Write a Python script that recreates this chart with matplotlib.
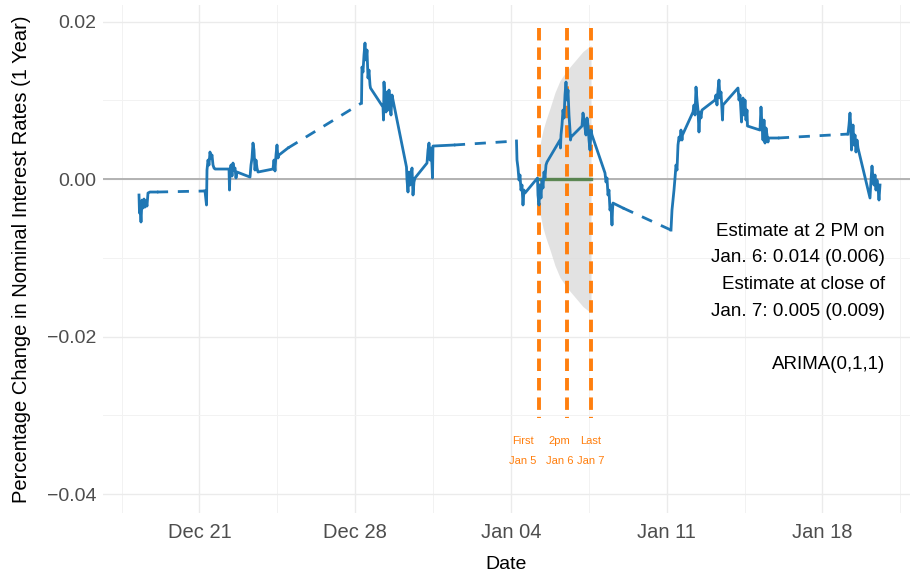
import numpy as np
import matplotlib
matplotlib.use("Agg")
import matplotlib.pyplot as plt

plt.rcParams['font.family'] = ['Liberation Sans', 'DejaVu Sans']

# time: days since 2020-12-21 00:00 ; value: percentage change in 1-year rate
days = [
    # Dec 18
    -2.719, -2.697, -2.674, -2.629, -2.584, -2.539, -2.494, -2.449, -2.404, -2.360, -2.315, -2.225, -1.910,
    # Dec 21
    0.247, 0.315, 0.337, 0.382, 0.427, 0.472, 0.517, 0.562, 0.607, 0.652, 0.697,
    # Dec 22
    1.326, 1.348, 1.371, 1.416, 1.461, 1.506, 1.551, 1.596, 1.640, 1.685,
    # Dec 23
    2.270, 2.315, 2.360, 2.404, 2.449, 2.494, 2.539, 2.584, 2.629,
    # Dec 24
    3.303, 3.348, 3.393, 3.438, 3.483, 3.528, 3.573, 3.978,
    # Dec 28
    7.281, 7.303, 7.348, 7.393, 7.438, 7.483, 7.528, 7.573, 7.618, 7.663, 7.685,
    # Dec 29
    8.247, 8.270, 8.292, 8.337, 8.382, 8.427, 8.472, 8.517, 8.562, 8.607, 8.652, 8.697,
    # Dec 30
    9.303, 9.326, 9.371, 9.416, 9.461, 9.506, 9.551, 9.596, 9.640, 9.685,
    # Dec 31
    10.225, 10.270, 10.315, 10.360, 10.404, 10.449, 10.472, 10.494, 11.438,
    # Jan 4
    14.247, 14.270, 14.315, 14.360, 14.404, 14.449, 14.494, 14.539, 14.584, 14.629,
    # Jan 5
    15.191, 15.213, 15.258, 15.303, 15.348, 15.393, 15.438, 15.483, 15.528, 15.573, 15.618,
    # Jan 6
    16.202, 16.225, 16.247, 16.292, 16.337, 16.382, 16.427, 16.472, 16.517, 16.562, 16.607, 16.652, 16.674, 16.697,
    # Jan 7
    17.191, 17.236, 17.281, 17.326, 17.371, 17.416, 17.461, 17.506, 17.551, 17.596, 17.640,
    # Jan 8
    18.225, 18.270, 18.315, 18.360, 18.404, 18.449, 18.494, 18.539, 18.562, 18.584, 19.034,
    # Jan 11
    21.191, 21.236, 21.281, 21.326, 21.371, 21.416, 21.461, 21.506, 21.551, 21.596, 21.640, 21.685, 21.708,
    # Jan 12
    22.180, 22.225, 22.270, 22.315, 22.360, 22.404, 22.449, 22.494, 22.539, 22.584,
    # Jan 13
    23.169, 23.213, 23.258, 23.303, 23.348, 23.393, 23.438, 23.483, 23.506, 23.528,
    # Jan 14
    24.202, 24.247, 24.292, 24.337, 24.360, 24.382, 24.427, 24.472, 24.517, 24.562, 24.607, 24.629,
    # Jan 15
    25.191, 25.236, 25.281, 25.326, 25.371, 25.416, 25.461, 25.506, 25.551, 25.573, 26.000,
    # Jan 19
    29.146, 29.191, 29.236, 29.281, 29.303, 29.326, 29.371, 29.416, 29.461, 29.506, 29.551, 29.596,
    # Jan 20
    30.135, 30.180, 30.225, 30.270, 30.315, 30.360, 30.404, 30.449, 30.494, 30.539, 30.584,
]
rate = [
    # Dec 18
    -0.00203, -0.00432, -0.00330, -0.00546, -0.00267, -0.00368, -0.00254, -0.00356, -0.00279, -0.00343, -0.00178, -0.00165, -0.00165,
    # Dec 21
    -0.00152, -0.00330, 0.00114, 0.00241, 0.00178, 0.00343, 0.00267, 0.00305, 0.00178, 0.00140, 0.00127,
    # Dec 22
    0.00127, -0.00140, 0.00089, 0.00178, 0.00038, 0.00203, 0.00114, 0.00140, 0.00013, 0.00089,
    # Dec 23
    0.00025, 0.00178, 0.00267, 0.00457, 0.00368, 0.00114, 0.00241, 0.00140, 0.00089,
    # Dec 24
    0.00127, 0.00241, 0.00102, 0.00305, 0.00432, 0.00267, 0.00305, 0.00394,
    # Dec 28
    0.00965, 0.01422, 0.01359, 0.01575, 0.01727, 0.01511, 0.01638, 0.01283, 0.01384, 0.01194, 0.01156,
    # Dec 29
    0.00914, 0.00749, 0.01232, 0.01003, 0.00851, 0.01105, 0.00876, 0.01130, 0.00940, 0.00813, 0.01067, 0.01003,
    # Dec 30
    0.00152, -0.00013, -0.00165, 0.00089, -0.00076, 0.00038, 0.00140, -0.00203, -0.00038, 0.00013,
    # Dec 31
    0.00203, 0.00368, 0.00457, 0.00241, 0.00394, 0.00178, 0.00013, 0.00419, 0.00432,
    # Jan 4
    0.00483, 0.00241, 0.00140, -0.00013, 0.00051, -0.00140, -0.00076, -0.00330, -0.00140, -0.00178,
    # Jan 5
    0.00013, -0.00203, -0.00330, -0.00076, -0.00241, -0.00013, -0.00114, 0.00089, 0.00013, 0.00178, 0.00216,
    # Jan 6
    0.00495, 0.00394, 0.00559, 0.00686, 0.00876, 0.00775, 0.01067, 0.01232, 0.01003, 0.01130, 0.00813, 0.00622, 0.00495, 0.00533,
    # Jan 7
    0.00673, 0.00838, 0.00749, 0.00648, 0.00559, 0.00775, 0.00686, 0.00495, 0.00368, 0.00622, 0.00559,
    # Jan 8
    0.00076, -0.00038, 0.00013, -0.00203, -0.00140, -0.00394, -0.00330, -0.00584, -0.00394, -0.00305, -0.00368,
    # Jan 11
    -0.00648, -0.00394, -0.00267, -0.00140, 0.00013, 0.00178, 0.00114, 0.00432, 0.00533, 0.00495, 0.00622, 0.00495, 0.00559,
    # Jan 12
    0.00851, 0.00940, 0.00813, 0.01168, 0.01003, 0.00876, 0.00597, 0.00851, 0.00775, 0.00876,
    # Jan 13
    0.01003, 0.01067, 0.00940, 0.01130, 0.01257, 0.01029, 0.01105, 0.00876, 0.00749, 0.00940,
    # Jan 14
    0.01156, 0.01003, 0.01067, 0.00851, 0.00724, 0.00940, 0.01029, 0.00813, 0.01003, 0.00749, 0.00876, 0.00673,
    # Jan 15
    0.00622, 0.00914, 0.00686, 0.00495, 0.00749, 0.00457, 0.00648, 0.00559, 0.00470, 0.00521, 0.00521,
    # Jan 19
    0.00571, 0.00686, 0.00838, 0.00622, 0.00368, 0.00495, 0.00686, 0.00432, 0.00559, 0.00343, 0.00495, 0.00394,
    # Jan 20
    -0.00241, -0.00013, 0.00165, 0.00013, -0.00076, 0.00051, -0.00140, -0.00013, -0.00102, -0.00267, -0.00076,
]

# ARIMA forecast band (days, half-width of interval)
band_days = [15.258, 15.348, 15.438, 15.573, 15.753, 15.978, 16.202, 16.517, 16.876, 17.236, 17.596]
band_half = [0.0035, 0.0050, 0.0062, 0.0075, 0.0090, 0.0110, 0.0125, 0.0138, 0.0150, 0.0162, 0.0170]
forecast_mean = 0.0

# event markers
event_days = [15.258, 16.517, 17.596]
event_labels = ["First\nJan 5", "2pm\nJan 6", "Last\nJan 7"]
event_label_days = [14.539, 16.18, 17.596]

tick_days = [0, 7, 14, 21, 28]
tick_labels = ["Dec 21", "Dec 28", "Jan 04", "Jan 11", "Jan 18"]
minor_days = [-3.5, 3.5, 10.5, 17.5, 24.5, 31.5]
y_ticks = [0.02, 0.00, -0.02, -0.04]
y_minor = [0.01, -0.01, -0.03]

annot = ("Estimate at 2 PM on\nJan. 6: 0.014 (0.006)\nEstimate at close of\n"
         "Jan. 7: 0.005 (0.009)\n\nARIMA(0,1,1)")

BLUE = "#1f77b4"
ORANGE = "#ff7f0e"

fig = plt.figure(figsize=(9.12, 5.73), dpi=100)
ax = fig.add_axes([103/912, 1-513/573, (910-103)/912, (513-5)/573])
for s in ax.spines.values():
    s.set_visible(False)
ax.set_xlim(-4.337, 31.933)
ax.set_ylim(-0.04241, 0.02210)

ax.set_xticks(tick_days)
ax.set_xticklabels(tick_labels)
ax.set_xticks(minor_days, minor=True)
ax.set_yticks(y_ticks)
ax.set_yticklabels(["0.02", "0.00", "\u22120.02", "\u22120.04"])
ax.set_yticks(y_minor, minor=True)
ax.tick_params(which='both', length=0)
ax.tick_params(axis='both', labelsize=14, labelcolor='#4d4d4d')
ax.tick_params(axis='x', labelsize=14.5, pad=7)
ax.tick_params(axis='y', pad=5)
ax.grid(which='major', color='#ebebeb', lw=1.0)
ax.grid(which='minor', color='#f2f2f2', lw=0.7)
ax.set_axisbelow(True)

# forecast band
bd = np.array(band_days)
bh = np.array(band_half)
ax.fill_between(bd, forecast_mean - bh, forecast_mean + bh, color='#d9d9d9', alpha=0.75, lw=0, zorder=1)
ax.axhline(0, color='#adadad', lw=1.3, zorder=2)
ax.plot([band_days[0], band_days[-1]], [forecast_mean, forecast_mean], color='#4f7f45', lw=2.4, zorder=3, alpha=0.9)

# event lines
for d in event_days:
    ax.plot([d, d], [0.0192, -0.0303], color=ORANGE, lw=2.8, ls=(0, (3.2, 1.8)), zorder=4)
for d, lab in zip(event_label_days, event_labels):
    ax.text(d, -0.03454, lab, color=ORANGE, fontsize=8, ha='center', va='center',
            multialignment='center', linespacing=2.2, zorder=6)

# blue series: solid within a trading week, dashed across weekends/holidays
t = np.array(days)
v = np.array(rate)
breaks = np.where(np.diff(t) > 1.2)[0]
starts = np.concatenate([[0], breaks + 1])
ends = np.concatenate([breaks + 1, [len(t)]])
for a, b in zip(starts, ends):
    ax.plot(t[a:b], v[a:b], color=BLUE, lw=2.0, zorder=5)
for i in breaks:
    ax.plot(t[i:i+2], v[i:i+2], color=BLUE, lw=2.0, ls=(0, (4, 3.5)), zorder=5)

ax.text(30.81, -0.0151, annot, ha='right', va='center', multialignment='right',
        fontsize=13.5, linespacing=1.75, color='black', zorder=6)

ax.set_xlabel("Date", fontsize=14, labelpad=10)
ax.set_ylabel("Percentage Change in Nominal Interest Rates (1 Year)", fontsize=14.5, labelpad=11)

fig.savefig("out.png", dpi=100)
